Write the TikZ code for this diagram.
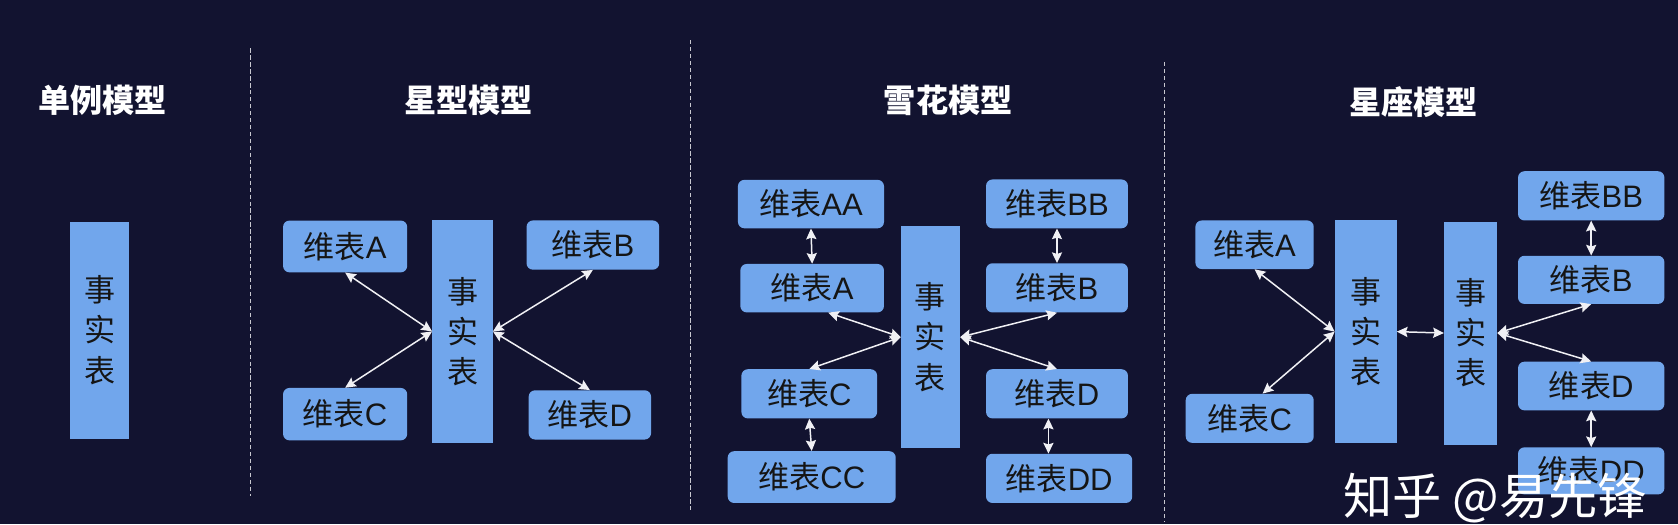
\documentclass[tikz,border=0pt]{standalone}
\usepackage{fontspec}
\setmainfont{Noto Sans CJK SC}
\newfontfamily\latfont{Liberation Sans}
\newcommand{\wbt}[1]{维表{\latfont #1}}
\usetikzlibrary{arrows.meta}
\definecolor{bg}{HTML}{121330}
\definecolor{boxblue}{HTML}{71A6EC}
\definecolor{inkc}{HTML}{151515}
\definecolor{arrowc}{HTML}{F0F0F4}
\definecolor{dashc}{HTML}{C8C8D0}
\begin{document}
\begin{tikzpicture}[x=1pt,y=-1pt,
  dim/.style={fill=boxblue, rounded corners=6pt, text=inkc, font=\fontsize{29}{29}\selectfont, inner sep=0pt},
  fact/.style={fill=boxblue, text=inkc, font=\fontsize{29}{37.5}\selectfont, align=center, inner sep=0pt},
  ttl/.style={text=white, font=\fontsize{30}{30}\selectfont\bfseries},
  arr/.style={draw=arrowc, line width=1.4pt, {Stealth[length=10pt,width=9.5pt,inset=1.5pt]}-{Stealth[length=10pt,width=9.5pt,inset=1.5pt]}},
  sep/.style={draw=dashc, line width=1.2pt, dash pattern=on 4pt off 2.5pt},
]
\fill[bg] (0,0) rectangle (1568,490);
\useasboundingbox (0,0) rectangle (1568,490);

% separators
\coordinate (s1a) at (234,45.3);  \coordinate (s1b) at (234,463.7);
\coordinate (s2a) at (645,37.5);  \coordinate (s2b) at (645,478);
\coordinate (s3a) at (1088,57.8); \coordinate (s3b) at (1088,487);
\draw[sep] (s1a) -- (s1b);
\draw[sep] (s2a) -- (s2b);
\draw[sep] (s3a) -- (s3b);

% titles
\node[ttl] (t1) at (96,94) {单例模型};
\node[ttl] (t2) at (438,94) {星型模型};
\node[ttl] (t3) at (886,94) {雪花模型};
\node[ttl] (t4) at (1321,95) {星座模型};

% panel 1
\node[fact, minimum width=55pt, minimum height=203pt] (F1) at (93.3,308.5) {事\\实\\表};

% panel 2
\node[dim, minimum width=116pt, minimum height=48.4pt] (A2) at (322.5,230.3) {\wbt{A}};
\node[dim, minimum width=116pt, minimum height=49pt] (C2) at (322.5,387) {\wbt{C}};
\node[fact, minimum width=56.5pt, minimum height=208pt] (F2) at (432.2,309.7) {事\\实\\表};
\node[dim, minimum width=124pt, minimum height=46pt] (B2) at (554,229) {\wbt{B}};
\node[dim, minimum width=114.4pt, minimum height=46pt] (D2) at (551.2,387.7) {\wbt{D}};
\draw[arr] (A2.south) -- (F2.west);
\draw[arr] (C2.north) -- (F2.west);
\draw[arr] (B2.south) -- (F2.east);
\draw[arr] (D2.north) -- (F2.east);

% panel 3
\node[dim, minimum width=136.5pt, minimum height=45.3pt] (AA3) at (757.8,190.7) {\wbt{AA}};
\node[dim, minimum width=134.2pt, minimum height=45.3pt] (A3) at (758.9,269.3) {\wbt{A}};
\node[fact, minimum width=55pt, minimum height=207pt] (F3) at (869.5,315) {事\\实\\表};
\node[dim, minimum width=132.6pt, minimum height=45.6pt] (BB3) at (987.7,190.5) {\wbt{BB}};
\node[dim, minimum width=132.6pt, minimum height=46pt] (B3) at (987.7,269) {\wbt{B}};
\node[dim, minimum width=126.8pt, minimum height=46pt] (C3) at (756.2,368) {\wbt{C}};
\node[dim, minimum width=157pt, minimum height=48.4pt] (CC3) at (758.5,445.8) {\wbt{CC}};
\node[dim, minimum width=132.6pt, minimum height=46pt] (D3) at (987.7,368) {\wbt{D}};
\node[dim, minimum width=136.6pt, minimum height=46pt] (DD3) at (989.7,447) {\wbt{DD}};
\draw[arr] (AA3.south) -- (A3.north);
\draw[arr] (C3.south) -- (CC3.north);
\draw[arr] (BB3.south) -- (B3.north);
\coordinate (d3s) at ([xshift=-8pt]D3.south);
\draw[arr] (d3s) -- (d3s |- DD3.north);
\draw[arr] ([xshift=15pt]A3.south) -- (F3.west);
\draw[arr] (C3.north) -- (F3.west);
\draw[arr] (B3.south) -- (F3.east);
\draw[arr] (D3.north) -- (F3.east);

% panel 4
\node[dim, minimum width=110.6pt, minimum height=45.4pt] (A4) at (1172.3,228.7) {\wbt{A}};
\node[dim, minimum width=119.6pt, minimum height=45.8pt] (C4) at (1167.8,390.9) {\wbt{C}};
\node[fact, minimum width=57.7pt, minimum height=207.8pt] (F4a) at (1276.2,309.9) {事\\实\\表};
\node[fact, minimum width=49.6pt, minimum height=208.4pt] (F4b) at (1374.2,311.2) {事\\实\\表};
\node[dim, minimum width=136.8pt, minimum height=46pt] (BB4) at (1486.9,183) {\wbt{BB}};
\node[dim, minimum width=136.8pt, minimum height=45pt] (B4) at (1486.9,261.5) {\wbt{B}};
\node[dim, minimum width=136.8pt, minimum height=45.5pt] (D4) at (1486.9,360.7) {\wbt{D}};
\node[dim, minimum width=136.8pt, minimum height=44pt] (DD4) at (1486.9,440) {\wbt{DD}};
\draw[arr] (A4.south) -- (F4a.west);
\draw[arr] ([xshift=12pt]C4.north) -- (F4a.west);
\draw[arr] (F4a.east) -- (F4b.west);
\draw[arr] (F4b.east) -- (B4.south);
\draw[arr] (F4b.east) -- (D4.north);
\draw[arr] (BB4.south) -- (B4.north);
\draw[arr] (D4.south) -- (DD4.north);

% watermark
\node[text=white, font=\fontsize{46}{46}\selectfont, inner sep=0pt] (wm) at (1397,465) {知乎 @易先锋};
\end{tikzpicture}
\end{document}
